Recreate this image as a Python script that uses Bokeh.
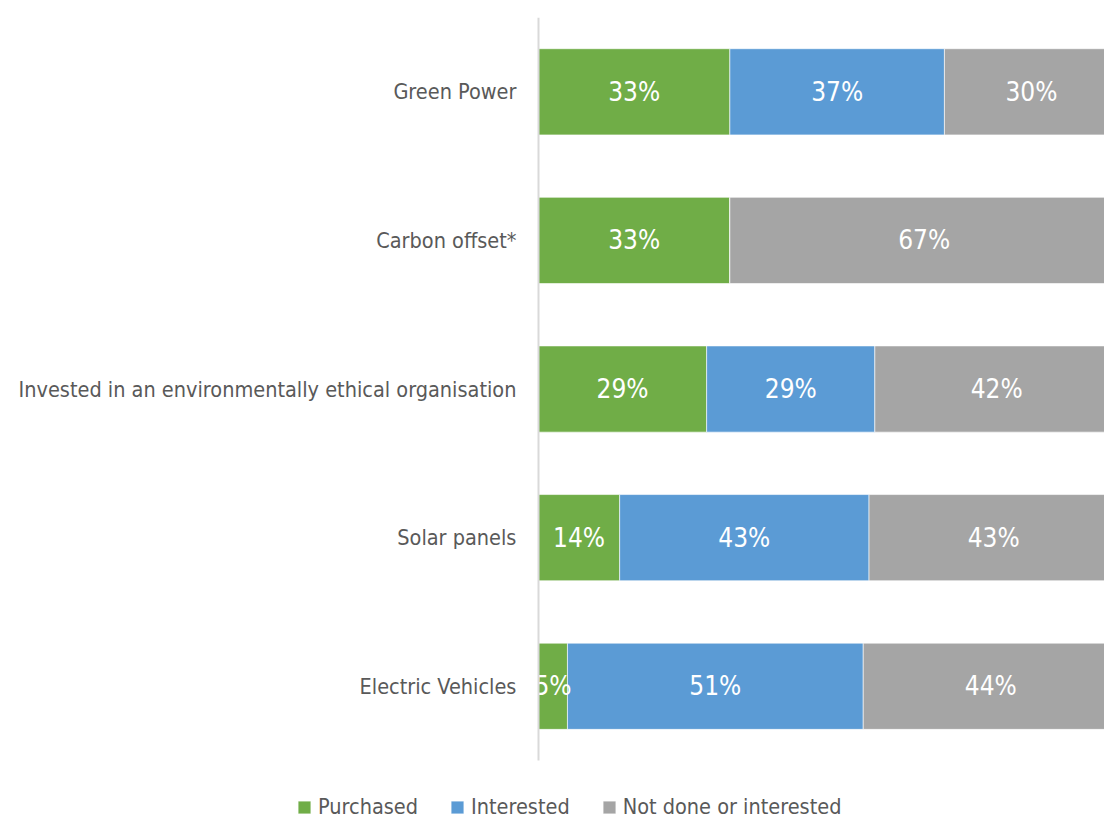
from bokeh.plotting import figure
from bokeh.models import ColumnDataSource, Range1d, Legend, LegendItem, FixedTicker
from bokeh.core.properties import value
from bokeh.embed import file_html
from bokeh.resources import INLINE

categories = ["Green Power", "Carbon offset*",
              "Invested in an environmentally ethical organisation",
              "Solar panels", "Electric Vehicles"]
purchased = [33, 33, 29, 14, 5]
interested = [37, 0, 29, 43, 51]
not_done = [30, 67, 42, 43, 44]
series = ["Purchased", "Interested", "Not done or interested"]
colors = ["#70AD47", "#5B9BD5", "#A5A5A5"]

FONT = "DejaVu Sans Condensed"

n = len(categories)
ypos = [n - i - 0.5 for i in range(n)]   # category slots, top to bottom

src = ColumnDataSource(dict(y=ypos, Purchased=purchased,
                            Interested=interested,
                            **{"Not done or interested": not_done}))

p = figure(width=1104, height=821, output_backend="svg", toolbar_location=None,
           x_range=Range1d(-92.76, 97.6), y_range=Range1d(-0.41, n),
           x_axis_location=None,
           min_border_left=0, min_border_right=0, min_border_top=17,
           min_border_bottom=0)
p.outline_line_color = None
p.grid.visible = False

rs = p.hbar_stack(series, y="y", height=0.58, color=colors, source=src,
                  line_color="white", line_width=0.6)

# segment labels
lx, ly, lt = [], [], []
for i in range(n):
    left = 0
    for vals in (purchased, interested, not_done):
        v = vals[i]
        if v > 0:
            lx.append(left + v / 2)
            ly.append(ypos[i])
            lt.append(f"{v}%")
        left += v
p.text(x=lx, y=ly, text=lt, text_color="white", text_align="center",
       text_baseline="middle", text_font_size="26px", text_font=value(FONT))

ax = p.yaxis[0]
ax.fixed_location = 0
ax.bounds = (0, n)
ax.ticker = FixedTicker(ticks=ypos)
ax.major_label_overrides = {y: c for y, c in zip(ypos, categories)}
ax.axis_line_color = "#D9D9D9"
ax.axis_line_width = 2
ax.major_tick_line_color = None
ax.minor_tick_line_color = None
ax.major_tick_out = 0
ax.major_tick_in = 0
ax.major_label_standoff = 22
ax.major_label_text_font = FONT
ax.major_label_text_font_size = "21.5px"
ax.major_label_text_color = "#595959"

legend = Legend(items=[LegendItem(label=s, renderers=[r]) for s, r in zip(series, rs)],
                orientation="horizontal", location=(296, 2),
                glyph_width=16, glyph_height=16, label_standoff=6, spacing=31,
                padding=0, margin=0, border_line_color=None,
                background_fill_alpha=0,
                label_text_font=FONT, label_text_font_size="21.5px",
                label_text_color="#595959")
p.add_layout(legend, "center")

open("out.html", "w").write(file_html(p, INLINE))
